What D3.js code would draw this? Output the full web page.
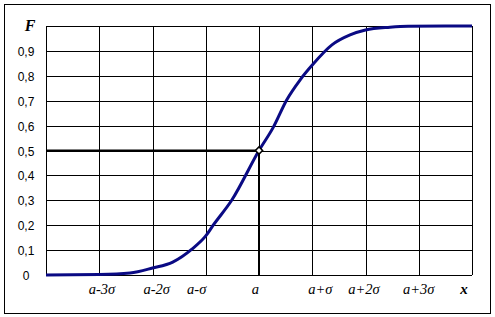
<!DOCTYPE html>
<html>
<head>
<meta charset="utf-8">
<script src="https://cdn.jsdelivr.net/npm/d3@7"></script>
<style>
  html, body { margin: 0; padding: 0; background: #fff; }
  svg { display: block; }
</style>
</head>
<body>
<div id="chart"></div>
<script>
// x in units of sigma relative to a, F
const curveX = [-4, -3, -2.42, -2, -1.62, -1.26, -1, -0.86, -0.51, 0, 0.27, 0.52, 0.77, 1, 1.37, 1.71, 2, 2.46, 2.8, 3.5, 4]
const curveF = [0, 0.002, 0.008, 0.028, 0.052, 0.104, 0.157, 0.2, 0.301, 0.5, 0.594, 0.703, 0.783, 0.843, 0.924, 0.964, 0.984, 0.995, 0.999, 1, 1]

const xTicks = [-4, -3, -2, -1, 0, 1, 2, 3, 4]
const xTickLabels = ["a-3σ", "a-2σ", "a-σ", "a", "a+σ", "a+2σ", "a+3σ"]
const xTickLabelAt = [-2.95, -1.92, -1.17, -0.07, 1.15, 1.97, 3]
const yTicks = [0, 0.1, 0.2, 0.3, 0.4, 0.5, 0.6, 0.7, 0.8, 0.9, 1]
const yTickLabels = ["0", "0,1", "0,2", "0,3", "0,4", "0,5", "0,6", "0,7", "0,8", "0,9"]
const markPoint = { x: 0, f: 0.5 }

const width = 495
const height = 317
const margin = { top: 26, right: 23, bottom: 42, left: 46 }

const svg = d3.select("#chart")
  .append("svg")
  .attr("width", width)
  .attr("height", height)

// outer frame
svg.append("rect")
  .attr("x", 4.5)
  .attr("y", 4.5)
  .attr("width", 486)
  .attr("height", 309)
  .attr("fill", "none")
  .attr("stroke", "#000")
  .attr("stroke-width", 1)

const x = d3.scaleLinear()
  .domain([-4, 4])
  .range([margin.left, width - margin.right])

const y = d3.scaleLinear()
  .domain([0, 1])
  .range([height - margin.bottom, margin.top])

// grid
svg.append("g")
  .selectAll("line")
  .data(yTicks)
  .join("line")
  .attr("x1", x(-4))
  .attr("x2", x(4))
  .attr("y1", d => Math.round(y(d)) + 0.5)
  .attr("y2", d => Math.round(y(d)) + 0.5)
  .attr("stroke", "#000")
  .attr("stroke-width", 1)

svg.append("g")
  .selectAll("line")
  .data(xTicks)
  .join("line")
  .attr("x1", d => Math.round(x(d)) + 0.5)
  .attr("x2", d => Math.round(x(d)) + 0.5)
  .attr("y1", y(0))
  .attr("y2", y(1))
  .attr("stroke", "#000")
  .attr("stroke-width", 1)

// y labels
svg.append("g")
  .selectAll("text")
  .data(yTickLabels)
  .join("text")
  .attr("x", 26)
  .attr("y", (d, i) => y(yTicks[i]) + 5)
  .attr("text-anchor", "middle")
  .attr("font-family", "Liberation Sans, Arial, sans-serif")
  .attr("font-size", "12px")
  .text(d => d)

svg.append("text")
  .attr("x", 30)
  .attr("y", 31)
  .attr("text-anchor", "middle")
  .attr("font-family", "Liberation Serif, Times New Roman, serif")
  .attr("font-style", "italic")
  .attr("font-weight", "bold")
  .attr("font-size", "16px")
  .text("F")

// x labels
svg.append("g")
  .selectAll("text")
  .data(xTickLabels)
  .join("text")
  .attr("x", (d, i) => x(xTickLabelAt[i]))
  .attr("y", 294)
  .attr("text-anchor", "middle")
  .attr("font-family", "Liberation Serif, Times New Roman, serif")
  .attr("font-style", "italic")
  .attr("font-size", "14.5px")
  .text(d => d)

svg.append("text")
  .attr("x", 464)
  .attr("y", 294)
  .attr("text-anchor", "middle")
  .attr("font-family", "Liberation Serif, Times New Roman, serif")
  .attr("font-style", "italic")
  .attr("font-weight", "bold")
  .attr("font-size", "15px")
  .text("x")

// guide lines to the median point
svg.append("line")
  .attr("x1", x(-4))
  .attr("x2", x(markPoint.x))
  .attr("y1", y(markPoint.f))
  .attr("y2", y(markPoint.f))
  .attr("stroke", "#000")
  .attr("stroke-width", 2)

svg.append("line")
  .attr("x1", x(markPoint.x))
  .attr("x2", x(markPoint.x))
  .attr("y1", y(markPoint.f))
  .attr("y2", y(0))
  .attr("stroke", "#000")
  .attr("stroke-width", 2)

// curve
const pts = curveX.map((d, i) => ({ x: d, f: curveF[i] }))
const line = d3.line()
  .x(d => x(d.x))
  .y(d => y(d.f))
  .curve(d3.curveMonotoneX)

svg.append("path")
  .datum(pts)
  .attr("fill", "none")
  .attr("stroke", "#0a0a84")
  .attr("stroke-width", 3)
  .attr("stroke-linejoin", "round")
  .attr("d", line)

// diamond marker
svg.append("path")
  .attr("d", d3.symbol().type(d3.symbolSquare).size(26)())
  .attr("transform", `translate(${x(markPoint.x)},${y(markPoint.f)}) rotate(45)`)
  .attr("fill", "#fff")
  .attr("stroke", "#000")
  .attr("stroke-width", 1.5)
</script>
</body>
</html>
